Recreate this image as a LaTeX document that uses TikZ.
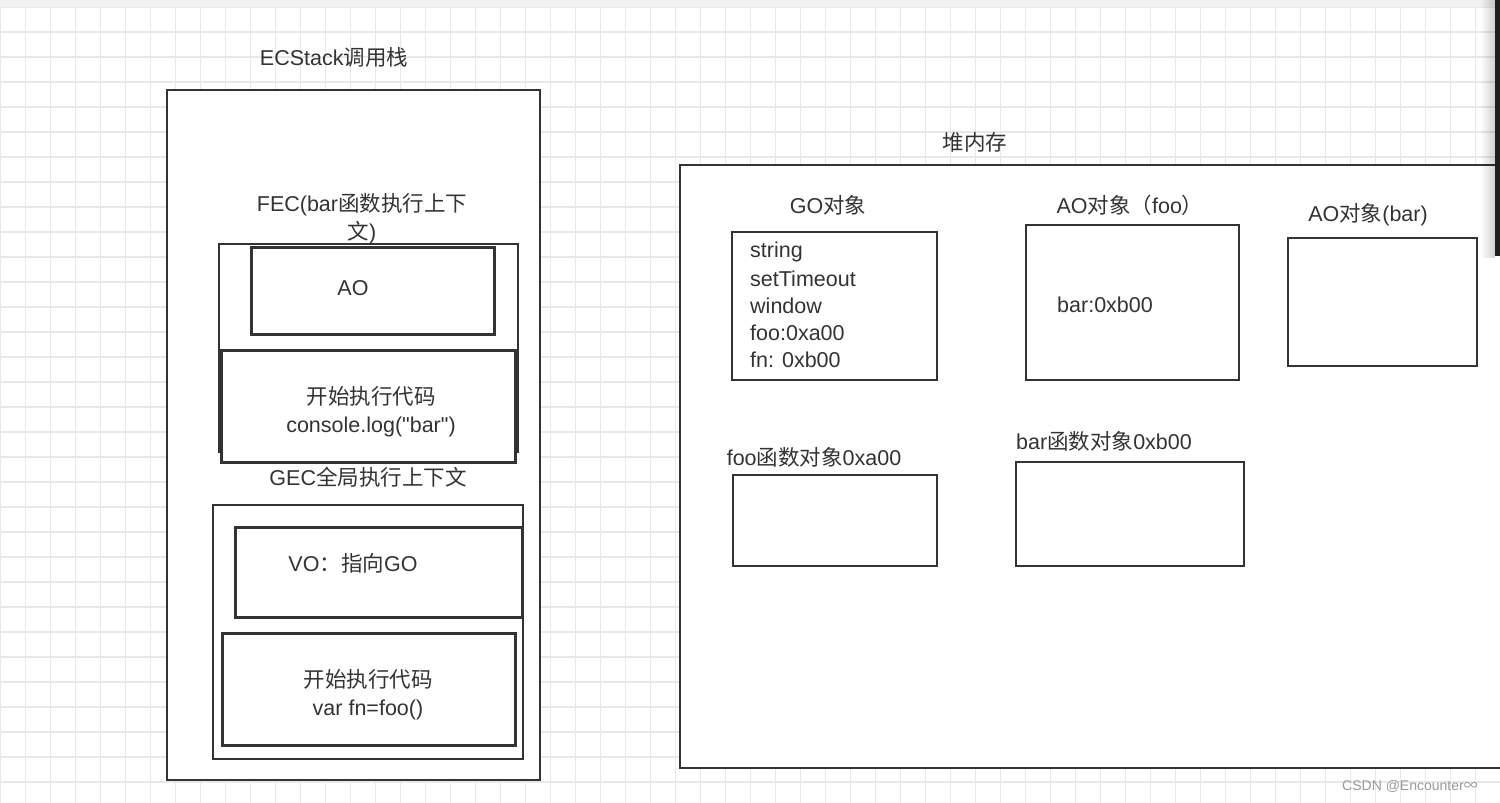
\documentclass[tikz,border=0pt]{standalone}
\usepackage{fontspec}
\setmainfont{Liberation Sans}[Ligatures=TeXOff]
\newfontfamily\cjk{Noto Sans CJK SC}
\newcommand{\zh}[1]{{\cjk #1}}
\definecolor{gridc}{HTML}{E8E8E8}
\definecolor{bandc}{HTML}{F1F1F1}
\definecolor{linec}{HTML}{333333}
\definecolor{textc}{HTML}{333333}
\definecolor{wmc}{HTML}{9A9A9A}
\tikzset{
  box/.style={draw=linec, line width=2.6pt, fill=white, anchor=north west, inner sep=0pt, outer sep=0pt},
  lbl/.style={text=textc, font=\fontsize{21.5}{28}\selectfont, inner sep=0pt},
  lbll/.style={lbl, anchor=west},
}
\begin{document}
\begin{tikzpicture}[x=1pt,y=-1pt]
\useasboundingbox (0,0) rectangle (1500,803);
\fill[white] (0,0) rectangle (1500,803);
% grid
\foreach \gx in {0,25,...,1500} { \draw[gridc, line width=1.2pt] (\gx+0.5,7) -- (\gx+0.5,803); }
\foreach \gy in {7,32,...,803} { \draw[gridc, line width=1.2pt] (0,\gy) -- (1500,\gy); }
\fill[bandc] (0,0) rectangle (1500,7);

% ===== left: call stack =====
\node[lbl] (ectitle) at (334,57) {ECStack\zh{调用栈}};
\node[box, minimum width=373pt, minimum height=690pt] (stack) at (167,90) {};

\node[lbl, align=center] (fectitle) at (362,219) {FEC(bar\zh{函数执行上下}\\\zh{文})};
\node[box, minimum width=299pt, minimum height=208pt] (fec) at (219,244) {};
\node[box, line width=3pt, minimum width=243pt, minimum height=87pt] (ao) at (251,247) {};
\node[lbl] (aotxt) at (353,288) {AO};
\node[box, line width=3pt, minimum width=294pt, minimum height=112pt] (fcode) at (221,350) {};
\node[lbl, align=center] (fcodetxt) at (371,412) {\zh{开始执行代码}\\console.log("bar")};

\node[lbl] (gectitle) at (368,477) {GEC\zh{全局执行上下文}};
\node[box, minimum width=310pt, minimum height=254pt] (gec) at (213,505) {};
\node[box, line width=3pt, minimum width=287pt, minimum height=90pt] (vo) at (235,527) {};
\node[lbl] (votxt) at (353,563) {VO\zh{：指向}GO};
\node[box, line width=3pt, minimum width=293pt, minimum height=112pt] (gcode) at (222,633) {};
\node[lbl, align=center] (gcodetxt) at (368,695) {\zh{开始执行代码}\\var fn=foo()};

% ===== right: heap =====
\node[lbl] (heaptitle) at (975,142) {\zh{堆内存}};
\node[box, minimum width=830pt, minimum height=603pt] (heap) at (680,165) {};

\node[lbl] (gotitle) at (828,205) {GO\zh{对象}};
\node[box, minimum width=205pt, minimum height=148pt] (go) at (732,232) {};
\node[lbll] (go1) at (750,252) {string};
\node[lbll] (go2) at (750,279) {setTimeout};
\node[lbll] (go3) at (750,306) {window};
\node[lbll] (go4) at (750,333) {foo:0xa00};
\node[lbll] (go5) at (750,360) {fn: 0xb00};

\node[lbl] (aofootitle) at (1130,205) {AO\zh{对象（}foo\zh{）}};
\node[box, minimum width=213pt, minimum height=155pt] (aofoo) at (1026,225) {};
\node[lbll] (aofootxt) at (1057,305) {bar:0xb00};

\node[lbl] (aobartitle) at (1368,215) {AO\zh{对象}(bar)};
\node[box, minimum width=189pt, minimum height=128pt] (aobar) at (1288,238) {};

\node[lbl] (foofntitle) at (814,457) {foo\zh{函数对象}0xa00};
\node[box, minimum width=204pt, minimum height=91pt] (foofn) at (733,475) {};

\node[lbl] (barfntitle) at (1104,441) {bar\zh{函数对象}0xb00};
\node[box, minimum width=228pt, minimum height=104pt] (barfn) at (1016,462) {};

% scrollbar with soft shadow
\foreach \i in {0,...,14} {
  \pgfmathsetmacro{\op}{0.012*\i}
  \fill[black, opacity=\op] (1480+\i,0) rectangle (1481+\i,258);
}
\fill[black!88] (1495,0) rectangle (1500,256);

% watermark
\node[text=wmc, font=\fontsize{14}{16}\selectfont, inner sep=0pt] (wm) at (1410,786) {CSDN @Encounter\zh{∞}};
\end{tikzpicture}
\end{document}
